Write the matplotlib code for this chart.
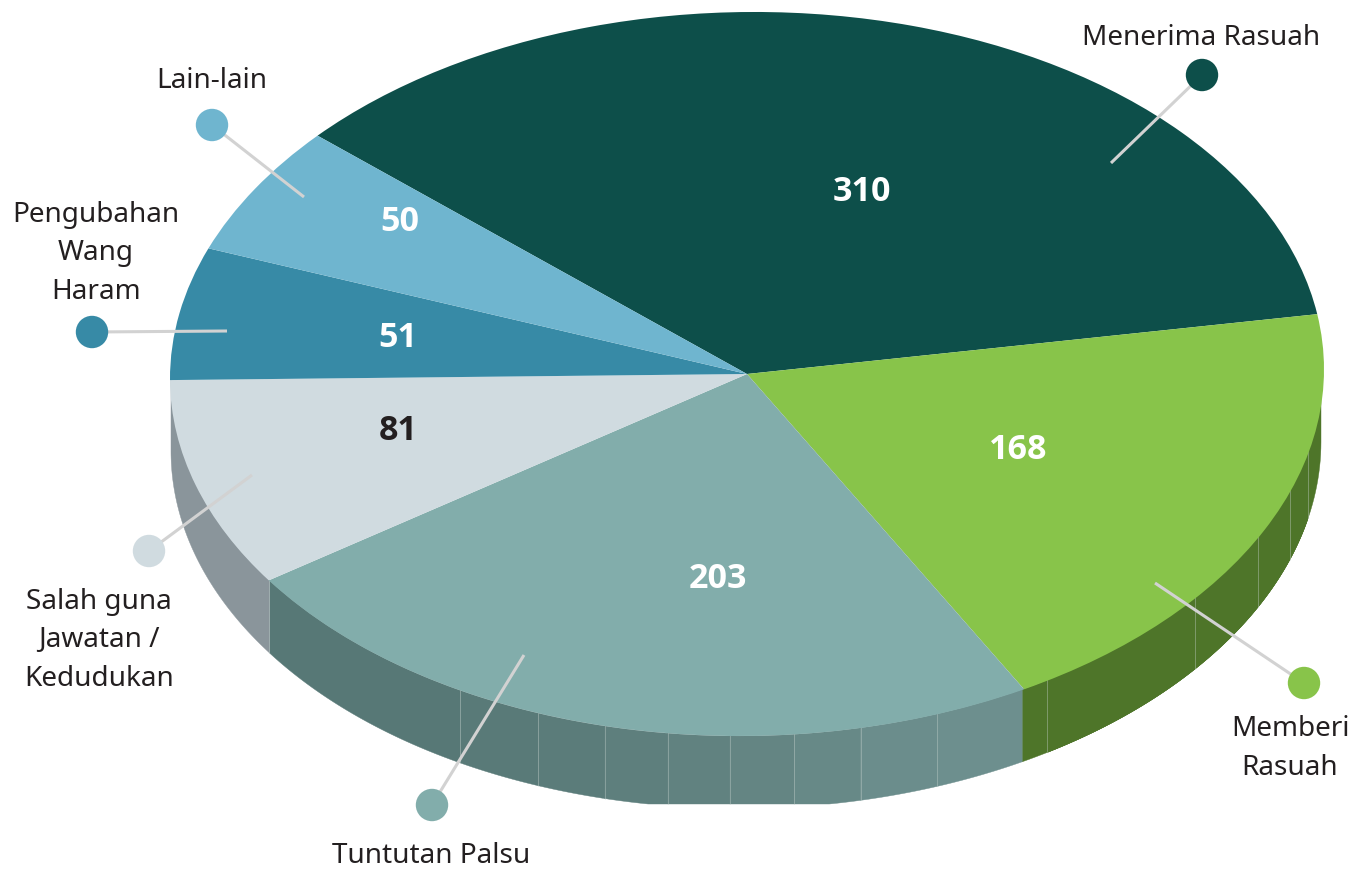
import numpy as np
import matplotlib
matplotlib.use("Agg")
import matplotlib.pyplot as plt
from matplotlib.patches import Circle, Polygon
from matplotlib.transforms import Affine2D

# --- data -------------------------------------------------------------
categories = ["Menerima Rasuah", "Memberi\nRasuah", "Tuntutan Palsu",
              "Salah guna\nJawatan /\nKedudukan", "Pengubahan\nWang\nHaram", "Lain-lain"]
values = [310, 168, 203, 81, 51, 50]

# --- style ------------------------------------------------------------
top_colors = ["#0d4f4a", "#88c44a", "#82adab", "#d0dbe0", "#378aa6", "#6fb5cf"]
value_colors = ["white", "white", "white", "#231f20", "white", "white"]
W, H = 1364, 870
CX, CY, RX, RY = 747, 375, 577, 362
TILT = 0.008          # slight tilt of the ellipse (dy per dx in pixels)
DEPTH, FLOOR_PX = 72.5, 805
START = 138.1
FONT = "Noto Sans"
BOLD_FONT = "Open Sans"
LINE_PX = 38.7

value_pos = [(862, 201), (1018.5, 459), (718, 588), (398.5, 440), (398, 347), (400, 231)]
label_pos = [(1201.5, 45), (1290, 775), (431, 863), (99, 686), (96, 299), (212, 88)]
dot_pos = [(1202, 76), (1304, 684), (432, 806), (149, 552), (92, 333), (212, 126)]
leader_end = [(1111, 164), (1155, 584), (524, 656), (252, 476), (227, 332), (304, 198)]

# wall segments per slice: seam angles in degrees, colours
teal_seams = [-119.8, -111.2, -104.2, -97.8, -91.6, -85.2, -78.5, -70.6]
teal_wall = ["#577876", "#597a78", "#5b7c7a", "#5e7f7d", "#618280", "#648583", "#678987", "#6b8d8c", "#6d8f8e"]
green_seams = [-58.4, -38.6, -27.0, -19.0, -12.2]
green_wall = ["#4e7529"] * 6
gray_wall = ["#8a959b"]

fig = plt.figure(figsize=(W / 100, H / 100), dpi=100, facecolor="white")
ax = fig.add_axes([0, 0, 1, 1])
wedges, _ = ax.pie(values, colors=top_colors, startangle=START, counterclock=False,
                   radius=1, center=(0, 0), wedgeprops=dict(linewidth=0, zorder=3))
ax.set_aspect("auto")
ax.set_xlim(-CX / RX, (W - CX) / RX)
ax.set_ylim((CY - H) / RY, CY / RY)
ax.axis("off")
px = Affine2D().scale(1, -1).translate(0, H)   # pixel positions (y downward)

shear_b = TILT * RX / RY
shear = Affine2D.from_values(1, shear_b, 0, 1, 0, 0)
for w in wedges:
    w.set_transform(shear + ax.transData)

# wall geometry comes from the same cumulative values as the slices
edges = START - np.cumsum([0] + values) * 360.0 / sum(values)
wall_rx = 575 / RX
wall_dx = -1 / RX
depth = DEPTH / RY
floor = (CY - FLOOR_PX) / RY


def wall(a0, a1, color):
    t = np.radians(np.linspace(a0, a1, 60))
    x = wall_dx + wall_rx * np.cos(t)
    ytop = np.sin(t) + shear_b * np.cos(t)
    ybot = np.maximum(ytop - depth, floor)
    verts = np.r_[np.c_[x, ytop], np.c_[x, ybot][::-1]]
    ax.add_patch(Polygon(verts, closed=True, fc=color, ec=color, lw=0.3, zorder=1))


def seam(a):
    t = np.radians(a)
    x = wall_dx + wall_rx * np.cos(t)
    y = np.sin(t) + shear_b * np.cos(t)
    ax.plot([x, x], [y, max(y - depth, floor)], color="#c8d4d0", lw=0.7, alpha=0.4, zorder=2)


g_bounds = [min(edges[1], 0.0)] + green_seams + [edges[2]]
for i in range(len(g_bounds) - 1):
    wall(g_bounds[i], g_bounds[i + 1], green_wall[i])
t_bounds = [edges[2]] + teal_seams[::-1] + [edges[3]]
for i in range(len(t_bounds) - 1):
    wall(t_bounds[i], t_bounds[i + 1], teal_wall[::-1][i])
wall(edges[3], -180, gray_wall[0])
for a in green_seams + teal_seams:
    seam(a)
seam(edges[3])

# leaders, dots, labels
for i, name in enumerate(categories):
    (x0, y0), (x1, y1) = dot_pos[i], leader_end[i]
    ax.plot([x0, x1], [y0, y1], color="#d2d2d2", lw=2.2, transform=px, zorder=5,
            solid_capstyle="butt")
    ax.add_patch(Circle(dot_pos[i], 16.2, fc=top_colors[i], ec="none", transform=px, zorder=6))
    lx, ly = label_pos[i]
    for j, line in enumerate(reversed(name.split("\n"))):
        ax.text(lx, ly - j * LINE_PX, line, transform=px, ha="center", va="baseline",
                fontsize=20.1, family=FONT, color="#231f20", zorder=7)
    ax.text(*value_pos[i], str(values[i]), transform=px, ha="center", va="baseline", fontsize=24.5,
            family=BOLD_FONT, fontweight="bold", color=value_colors[i], zorder=7)

fig.savefig("out.png", dpi=100, facecolor="white")
